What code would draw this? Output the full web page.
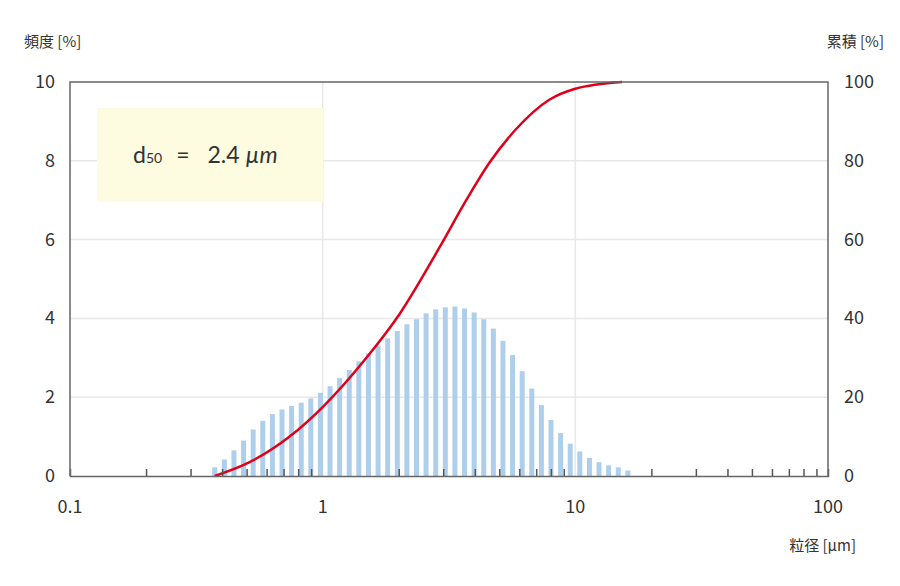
<!DOCTYPE html>
<html>
<head>
<meta charset="utf-8">
<script src="https://cdn.jsdelivr.net/npm/d3@7"></script>
<style>
  body { margin: 0; background: white; }
  text { font-family: 'Noto Sans CJK JP', 'Noto Sans', sans-serif; }
</style>
</head>
<body>
<div id="chart-container"></div>
<script>
// frequency bars (%), first bar at 0.374 µm, constant log step
const barStart = 0.374
const barRatio = 1.0915
const freqValues = [
  0.22, 0.42, 0.65, 0.9, 1.18, 1.4, 1.57, 1.69, 1.78, 1.86, 1.97, 2.11, 2.28,
  2.49, 2.69, 2.91, 3.11, 3.3, 3.49, 3.68, 3.85, 3.98, 4.13, 4.23, 4.28, 4.3,
  4.25, 4.15, 3.98, 3.74, 3.43, 3.07, 2.66, 2.22, 1.8, 1.42, 1.09, 0.82, 0.62,
  0.46, 0.35, 0.27, 0.22, 0.14,
]
const barSizes = freqValues.map((v, i) => barStart * Math.pow(barRatio, i))

// cumulative curve
const cumSizes = [0.374, 0.514, 0.74, 1.0, 1.49, 2.01, 2.9, 3.7, 4.57, 5.82, 7.89, 10, 15.3]
const cumValues = [0, 3.5, 10, 17.5, 30, 41, 58, 70, 79.5, 88, 95.5, 98.3, 100]

const leftTicks = [0, 2, 4, 6, 8, 10]
const rightTicks = [0, 20, 40, 60, 80, 100]
const xTicks = [0.1, 1, 10, 100]

const width = 900
const height = 586
const margin = { top: 82, right: 72, bottom: 110, left: 70 }

const svg = d3
  .select('#chart-container')
  .append('svg')
  .attr('width', width)
  .attr('height', height)

const x = d3
  .scaleLog()
  .domain([0.1, 100])
  .range([margin.left, width - margin.right])
const y = d3
  .scaleLinear()
  .domain([0, 10])
  .range([height - margin.bottom, margin.top])
const y2 = d3
  .scaleLinear()
  .domain([0, 100])
  .range([height - margin.bottom, margin.top])

const gridColor = '#e8e8e8'

// grid lines
svg
  .append('g')
  .selectAll('line')
  .data(leftTicks.slice(1, -1))
  .join('line')
  .attr('x1', x(0.1))
  .attr('x2', x(100))
  .attr('y1', d => y(d))
  .attr('y2', d => y(d))
  .attr('stroke', gridColor)
  .attr('stroke-width', 1.5)
svg
  .append('g')
  .selectAll('line')
  .data([1, 10])
  .join('line')
  .attr('x1', d => x(d))
  .attr('x2', d => x(d))
  .attr('y1', y(0))
  .attr('y2', y(10))
  .attr('stroke', gridColor)
  .attr('stroke-width', 1.5)

// d50 box
svg
  .append('rect')
  .attr('x', 97)
  .attr('y', 108)
  .attr('width', 226)
  .attr('height', 94)
  .attr('fill', '#fdfbe0')
const label = svg
  .append('text')
  .attr('x', 133)
  .attr('y', 163)
  .attr('font-size', 23)
  .attr('fill', '#333')
  .style('font-family', 'Lato, sans-serif')
label.append('tspan').text('d')
label.append('tspan').attr('font-size', 14).text('50')
label.append('tspan').attr('dx', 14).text('=')
label.append('tspan').attr('dx', 18).text('2.4 ')
label.append('tspan').attr('font-style', 'italic').text('µm')

// bars
svg
  .append('g')
  .selectAll('rect')
  .data(freqValues)
  .join('rect')
  .attr('x', (d, i) => x(barSizes[i]) - 2.5)
  .attr('width', 5)
  .attr('y', d => y(d))
  .attr('height', d => y(0) - y(d))
  .attr('fill', '#aecfeb')

// cumulative curve
const line = d3
  .line()
  .x((d, i) => x(cumSizes[i]))
  .y(d => y2(d))
  .curve(d3.curveMonotoneX)
svg
  .append('path')
  .attr('d', line(cumValues))
  .attr('fill', 'none')
  .attr('stroke', '#e0001a')
  .attr('stroke-width', 2.5)

// frame
svg
  .append('path')
  .attr('d', `M${x(0.1)},${y(0)}V${y(10)}H${x(100)}V${y(0)}`)
  .attr('fill', 'none')
  .attr('stroke', '#666')
  .attr('stroke-width', 1.5)

// bottom axis with minor ticks inside
const minor = []
;[0.1, 1, 10].forEach(dec => {
  for (let k = 2; k <= 9; k++) minor.push(dec * k)
})
svg
  .append('g')
  .attr('transform', `translate(0,${y(0)})`)
  .call(
    d3
      .axisBottom(x)
      .tickValues(minor)
      .tickSize(-7)
      .tickFormat(''),
  )
  .call(g => g.select('.domain').attr('stroke', '#666').attr('stroke-width', 1.5))
  .call(g => g.selectAll('.tick line').attr('stroke', '#555').attr('stroke-width', 1.5))

svg
  .append('g')
  .selectAll('text')
  .data(xTicks)
  .join('text')
  .attr('x', d => x(d))
  .attr('y', 513)
  .attr('text-anchor', 'middle')
  .attr('font-size', 18)
  .attr('fill', '#333')
  .text(d => d)

svg
  .append('g')
  .selectAll('text')
  .data(leftTicks)
  .join('text')
  .attr('x', 55)
  .attr('y', d => y(d) + 6)
  .attr('text-anchor', 'end')
  .attr('font-size', 18)
  .attr('fill', '#333')
  .text(d => d)

svg
  .append('g')
  .selectAll('text')
  .data(rightTicks)
  .join('text')
  .attr('x', 844)
  .attr('y', d => y2(d) + 6)
  .attr('font-size', 18)
  .attr('fill', '#333')
  .text(d => d)

svg.append('text').attr('x', 24).attr('y', 47).attr('font-size', 15).attr('fill', '#333').text('頻度 [%]')
svg.append('text').attr('x', 884).attr('y', 47).attr('text-anchor', 'end').attr('font-size', 15).attr('fill', '#333').text('累積 [%]')
svg.append('text').attr('x', 856).attr('y', 551).attr('text-anchor', 'end').attr('font-size', 15).attr('fill', '#333').text('粒径 [µm]')
</script>
</body>
</html>
